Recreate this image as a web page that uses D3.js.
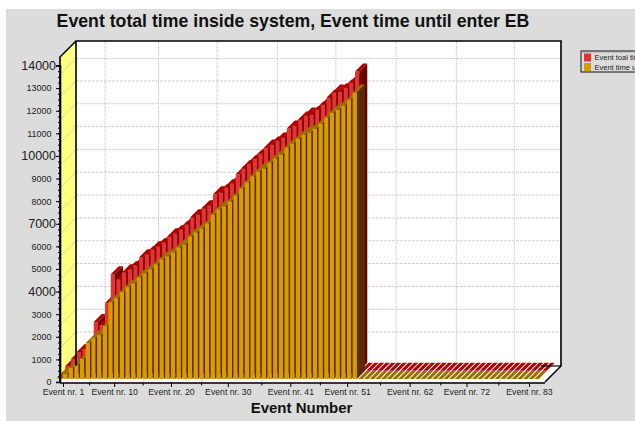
<!DOCTYPE html>
<html>
<head>
<meta charset="utf-8">
<script src="https://cdnjs.cloudflare.com/ajax/libs/d3/7.8.5/d3.min.js"></script>
<style>
  html, body { margin: 0; padding: 0; background: #fff; }
  svg { display: block; font-family: "Liberation Sans", Arial, sans-serif; }
</style>
</head>
<body>
<svg id="chart" width="635" height="421"></svg>
<script>
// values, 85 events
var totalTime = [205, 515, 825, 960, 1055, 2150, 2020, 2990, 4270, 4050, 4360, 4490, 4665, 5020, 5155, 5375, 5505,
  5685, 5950, 6080, 6255, 6475, 6785, 6920, 7185, 7315, 7800, 7890, 8110, 8290, 8685, 8950, 9170, 9390, 9610,
  9875, 10010, 10185, 10320, 10715, 10850, 11115, 11290, 11335, 11555, 11775, 12085, 12305, 12350, 12525, 12745, 13235,
  0, 0, 0, 0, 0, 0, 0, 0, 0, 0,
  0, 0, 0, 0, 0, 0, 0, 0, 0, 0,
  0, 0, 0, 0, 0, 0, 0, 0, 0, 0,
  0, 0, 0];
var timeUntilEB = [90, 220, 490, 620, 885, 1590, 1810, 1945, 2340, 3400, 3580, 3845, 4065, 4240, 4505, 4680, 4860,
  5080, 5300, 5435, 5610, 5830, 5960, 6315, 6490, 6670, 6890, 7285, 7510, 7640, 7860, 8125, 8435, 8700, 8965,
  9185, 9320, 9580, 9760, 9935, 10245, 10420, 10640, 10820, 10910, 11085, 11305, 11570, 11790, 11920, 12100, 12365, 12670,
  0, 0, 0, 0, 0, 0, 0, 0, 0, 0,
  0, 0, 0, 0, 0, 0, 0, 0, 0, 0,
  0, 0, 0, 0, 0, 0, 0, 0, 0, 0,
  0, 0];
var xLabelEvents = [1, 10, 20, 30, 41, 51, 62, 72, 83];
var xGridEvents = [5.6, 15, 25.3, 35.9, 46.2, 56.8, 67.4, 77.6];
var yMajorTicks = [4000, 7000, 10000, 14000];
var yTicks = [0, 1000, 2000, 3000, 4000, 5000, 6000, 7000, 8000, 9000, 10000, 11000, 12000, 13000, 14000];
var yGridLines = [1500, 2510, 3520, 4530, 5540, 6550, 7560, 8570, 9580, 10590, 11600, 12610, 13600];
var legendNames = ["Event toal time inside system", "Event time until enter EB"];

var svg = d3.select("#chart");
var depth = 16, barDepth = 8;
var plotLeft = 60, plotRight = 545, plotBottom = 382, plotTop = 57;

svg.append("rect").attr("x", 6).attr("y", 9).attr("width", 629).attr("height", 412).attr("fill", "#dcdcdc");

var events = d3.range(1, totalTime.length + 1);
var x = d3.scaleBand().domain(events).range([57.3, 57.3 + 5.68 * events.length]);
var xEvent = d3.scaleLinear().domain([1, 83]).range([63, 529]);
var y = d3.scaleLinear().domain([0, 14000]).range([plotBottom, 65.5]);

// walls and floor
svg.append("rect").attr("x", plotLeft + depth).attr("y", plotTop - depth).attr("width", plotRight - plotLeft)
  .attr("height", plotBottom - plotTop).attr("fill", "#fff");
svg.append("polygon")
  .attr("points", [[plotLeft, plotBottom], [plotRight, plotBottom], [plotRight + depth, plotBottom - depth], [plotLeft + depth, plotBottom - depth]].join(" "))
  .attr("fill", "#fff");
svg.append("polygon")
  .attr("points", [[plotLeft, plotTop], [plotLeft + depth, plotTop - depth], [plotLeft + depth, plotBottom - depth], [plotLeft, plotBottom]].join(" "))
  .attr("fill", "#ffff80");

// grid
var grid = svg.append("g").attr("fill", "none").attr("stroke-width", 1);
grid.selectAll(".h").data(yGridLines).enter().append("path")
  .attr("d", function(d) {
    return "M" + (plotLeft + depth) + "," + (y(d) - depth) + "H" + (plotRight + depth);
  })
  .attr("stroke", "#d0d0d0").attr("stroke-dasharray", "3,1");
grid.selectAll(".w").data(yGridLines).enter().append("path")
  .attr("d", function(d) {
    return "M" + plotLeft + "," + y(d) + "L" + (plotLeft + depth) + "," + (y(d) - depth);
  })
  .attr("stroke", "#dcdc90");
grid.selectAll(".v").data(xGridEvents).enter().append("path")
  .attr("d", function(d) {
    var px = xEvent(d);
    return "M" + px + "," + plotBottom + "L" + (px + depth) + "," + (plotBottom - depth) + "V" + (plotTop - depth);
  })
  .attr("stroke", "#d0d0d0").attr("stroke-dasharray", "3,1");

function drawBars(values, dx, dy, front, topFace, side) {
  var w = 4.3;
  var g = svg.append("g").attr("transform", "translate(" + dx + "," + dy + ")");
  var bars = g.selectAll("g").data(values).enter().append("g");
  bars.append("rect")
    .attr("x", function(d, i) { return x(events[i]); })
    .attr("y", function(d) { return y(d); })
    .attr("width", w)
    .attr("height", function(d) { return y(0) - y(d); })
    .attr("fill", front);
  bars.append("polygon")
    .attr("points", function(d, i) {
      var a = x(events[i]), b = y(d);
      return [[a, b], [a + w, b], [a + w + barDepth, b - barDepth], [a + barDepth, b - barDepth]].join(" ");
    })
    .attr("fill", topFace);
  bars.append("polygon")
    .attr("points", function(d, i) {
      var a = x(events[i]) + w, b = y(d);
      return [[a, b], [a + barDepth, b - barDepth], [a + barDepth, y(0) - barDepth], [a, y(0)]].join(" ");
    })
    .attr("fill", side);
}

drawBars(totalTime, 8, -11.3, "#e53333", "#b00000", "#6a0000");
drawBars(timeUntilEB, 0, -3, "#d89c00", "#9c6e00", "#5a2a00");

// frame
var frame = svg.append("g").attr("fill", "none").attr("stroke", "#000");
frame.append("path").attr("stroke-width", 1.6)
  .attr("d", "M" + plotLeft + "," + plotBottom + "V" + plotTop + "L" + (plotLeft + depth) + "," + (plotTop - depth) +
    "H" + (plotRight + depth) + "V" + (plotBottom - depth) + "L" + plotRight + "," + plotBottom);
frame.append("path").attr("stroke-width", 1.6)
  .attr("d", "M" + (plotLeft + depth) + "," + (plotTop - depth) + "V" + (plotBottom - depth));
frame.append("path").attr("stroke-width", 1.2)
  .attr("d", "M" + (plotRight + depth) + "," + (plotBottom - depth) + "H" + (plotRight - 4));

// y axis
var yMinor = svg.append("g").attr("transform", "translate(" + plotLeft + ",0)")
  .call(d3.axisLeft(y).tickValues(d3.range(0, 14001, 250)).tickSize(2).tickFormat(""));
var yAxis = svg.append("g").attr("transform", "translate(" + plotLeft + ",0)")
  .call(d3.axisLeft(y).tickValues(yTicks).tickSize(4).tickFormat(d3.format("d")));
yMinor.select(".domain").remove();
yAxis.select(".domain").attr("stroke-width", 1.6);
yAxis.selectAll("text")
  .attr("fill", "#222")
  .attr("font-family", "Liberation Sans")
  .attr("font-size", function(d) { return yMajorTicks.indexOf(d) >= 0 ? "12.5px" : "9px"; })
  .attr("x", function(d) { return yMajorTicks.indexOf(d) >= 0 ? -4 : -8.5; });

// x axis
var xMinor = svg.append("g").attr("transform", "translate(0," + (plotBottom + 1) + ")")
  .call(d3.axisBottom(xEvent).tickValues(xGridEvents).tickSize(2.5).tickFormat(""));
var xAxis = svg.append("g").attr("transform", "translate(0," + (plotBottom + 1) + ")")
  .call(d3.axisBottom(xEvent).tickValues(xLabelEvents).tickSize(4).tickFormat(function(d) { return "Event nr. " + d; }));
xMinor.select(".domain").remove();
xAxis.select(".domain").attr("d", "M" + plotLeft + ",0H" + plotRight).attr("stroke-width", 1.6);
xAxis.selectAll("text")
  .attr("fill", "#222")
  .attr("font-family", "Liberation Sans")
  .attr("font-size", "8.7px")
  .attr("y", 6);

// titles
svg.append("text").attr("x", 293).attr("y", 27).attr("text-anchor", "middle")
  .attr("font-family", "Liberation Sans")
  .attr("font-weight", "bold").attr("font-size", "17.7px").attr("fill", "#111")
  .text("Event total time inside system, Event time until enter EB");
svg.append("text").attr("x", 301.5).attr("y", 413).attr("text-anchor", "middle")
  .attr("font-family", "Liberation Sans")
  .attr("font-weight", "bold").attr("font-size", "15px").attr("fill", "#111")
  .text("Event Number");

// legend, runs off the right edge like the original
var legend = svg.append("g");
legend.append("rect").attr("x", 581).attr("y", 51).attr("width", 70).attr("height", 21)
  .attr("fill", "#dcdcdc").attr("stroke", "#111").attr("stroke-width", 1);
legend.append("path").attr("d", "M581,51.5H635").attr("stroke", "#777").attr("stroke-width", 1.5);
var legendColors = d3.scaleOrdinal().domain(legendNames).range(["#e53333", "#d89c00"]);
var items = legend.selectAll(".item").data(legendNames).enter().append("g")
  .attr("transform", function(d, i) { return "translate(584," + (53.5 + i * 9.5) + ")"; });
items.append("rect").attr("width", 7).attr("height", 8).attr("fill", function(d) { return legendColors(d); });
items.append("text").attr("x", 10.5).attr("y", 6.5).attr("font-family", "Liberation Sans").attr("font-size", "7.5px").attr("fill", "#222")
  .text(function(d) { return d; });
</script>
</body>
</html>
